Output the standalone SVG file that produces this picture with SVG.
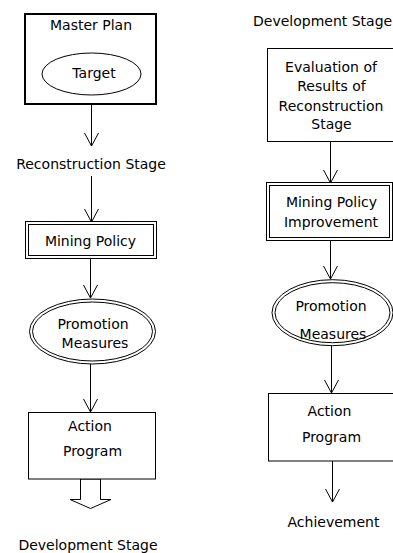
<svg xmlns="http://www.w3.org/2000/svg" width="393" height="553" viewBox="0 0 393 553">
  <style>
    text { font-family: "DejaVu Sans", "Liberation Sans", sans-serif; font-size: 14px; fill: #000; text-anchor: middle; }
    .box { fill: #fff; stroke: #000; stroke-width: 1; }
    .thick { fill: #fff; stroke: #000; stroke-width: 2; }
    .line { fill: none; stroke: #000; stroke-width: 1; marker-end: url(#vee); }
  </style>
  <defs>
    <!-- open V arrowhead -->
    <marker id="vee" markerUnits="userSpaceOnUse" viewBox="-15 -8 17 16" markerWidth="17" markerHeight="16" refX="0" refY="0" orient="auto" overflow="visible">
      <path d="M-13,-7 L0,0 L-13,7" fill="none" stroke="#000" stroke-width="1"/>
    </marker>
  </defs>
  <rect width="393" height="553" fill="#fff"/>

  <!-- connectors -->
  <g id="connectors">
    <path class="line" d="M91.5,105 V146"/>
    <path class="line" d="M91.5,176 V222"/>
    <path class="line" d="M90.5,259 V298"/>
    <path class="line" d="M90.5,364 V412"/>
    <path class="line" d="M330.5,142 V183"/>
    <path class="line" d="M330.5,241 V279"/>
    <path class="line" d="M331.5,346 V393"/>
    <path class="line" d="M332.5,461 V502"/>
    <!-- hollow block arrow out of the action program -->
    <polygon points="80.5,479 80.5,499.5 70,499.5 90.5,508.5 111,499.5 100.5,499.5 100.5,479" fill="#fff" stroke="#000" stroke-width="1"/>
  </g>

  <!-- left column -->
  <g id="master-plan">
    <rect class="thick" x="25" y="14" width="131" height="90"/>
    <text x="91" y="29.5">Master Plan</text>
  </g>
  <g id="target">
    <ellipse class="box" cx="91.5" cy="74" rx="49.5" ry="21"/>
    <text x="94" y="77.5">Target</text>
  </g>
  <g id="reconstruction-stage">
    <text x="91" y="169">Reconstruction Stage</text>
  </g>
  <g id="mining-policy">
    <rect class="box" x="25.5" y="221.5" width="131" height="37"/>
    <rect class="box" x="28.5" y="224.5" width="125" height="31"/>
    <text x="90.5" y="245.5">Mining Policy</text>
  </g>
  <g id="promotion-measures-1">
    <ellipse class="box" cx="92.5" cy="331.5" rx="63" ry="32.5"/>
    <ellipse class="box" cx="92.5" cy="331.5" rx="60" ry="29.5"/>
    <text x="93" y="328.5">Promotion</text>
    <text x="95" y="348">Measures</text>
  </g>
  <g id="action-program-1">
    <rect class="box" x="28.5" y="412.5" width="127" height="66.5"/>
    <text x="90" y="430.5">Action</text>
    <text x="92.5" y="456">Program</text>
  </g>
  <g id="development-stage-1">
    <text x="88" y="550">Development Stage</text>
  </g>

  <!-- right column -->
  <g id="development-stage-2">
    <text x="253" y="26" style="text-anchor:start">Development Stage</text>
  </g>
  <g id="evaluation">
    <rect class="box" x="267.5" y="48.5" width="130" height="93"/>
    <text x="331" y="72">Evaluation of</text>
    <text x="331.5" y="91">Results of</text>
    <text x="331" y="110.5">Reconstruction</text>
    <text x="331.5" y="128.5">Stage</text>
  </g>
  <g id="mining-policy-improvement">
    <rect class="box" x="266.5" y="182.5" width="126" height="58"/>
    <rect class="box" x="269.5" y="185.5" width="120" height="52"/>
    <text x="331.5" y="207">Mining Policy</text>
    <text x="331" y="226.5">Improvement</text>
  </g>
  <g id="promotion-measures-2">
    <ellipse class="box" cx="332.5" cy="312.7" rx="60.5" ry="33"/>
    <ellipse class="box" cx="332.5" cy="312.7" rx="57.5" ry="30"/>
    <text x="331" y="310.5">Promotion</text>
    <text x="333" y="339">Measures</text>
  </g>
  <g id="action-program-2">
    <rect class="box" x="268.5" y="393.5" width="130" height="67.5"/>
    <text x="329.5" y="415.5">Action</text>
    <text x="331.5" y="442">Program</text>
  </g>
  <g id="achievement">
    <text x="333.5" y="527">Achievement</text>
  </g>
</svg>
